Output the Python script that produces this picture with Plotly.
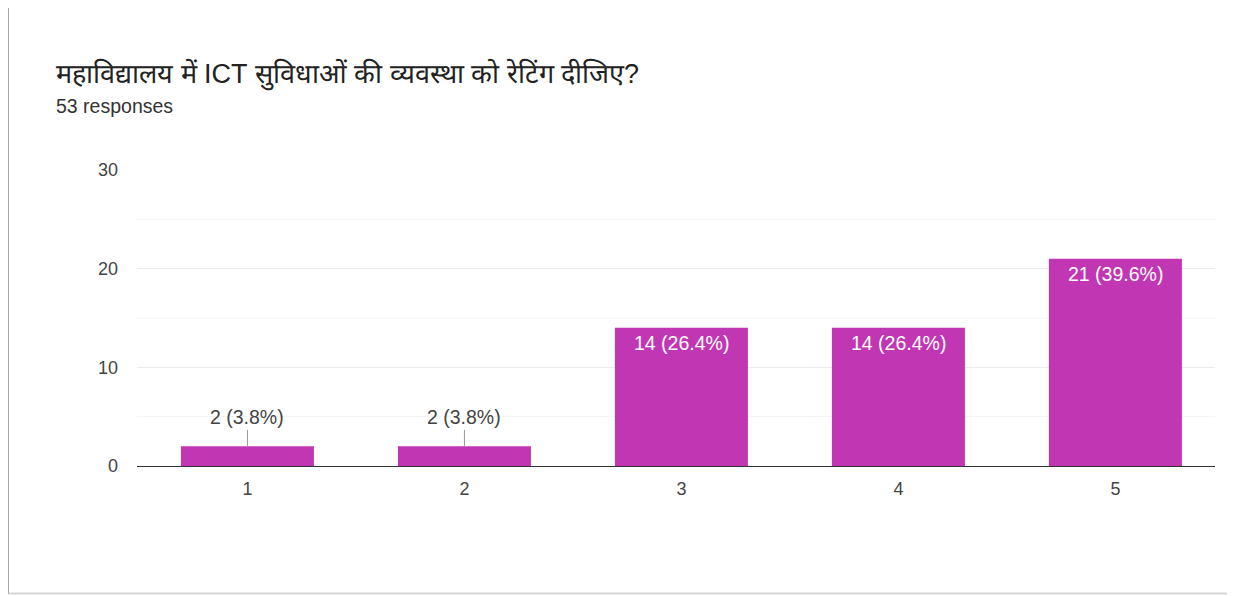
import plotly.graph_objects as go

categories = [1, 2, 3, 4, 5]
counts = [2, 2, 14, 14, 21]
percents = [3.8, 3.8, 26.4, 26.4, 39.6]
y_ticks = [0, 10, 20, 30]
title_text = "महाविद्यालय में ICT सुविधाओं की व्यवस्था को रेटिंग दीजिए?"
subtitle_text = "53 responses"

BAR_COLOR = "#c137b3"
TEXT_COLOR = "#444444"
FONT = "'Liberation Sans', Arial, sans-serif"

fig = go.Figure()
fig.add_trace(go.Bar(
    x=categories, y=counts, width=0.613,
    marker=dict(color=BAR_COLOR, line=dict(width=0)),
    hoverinfo="skip",
))

annotations = []
for c, v, p in zip(categories, counts, percents):
    label = f"{v} ({p}%)"
    if v < 5:
        annotations.append(dict(
            x=c, y=v, xref="x", yref="y", text=label, showarrow=True,
            ax=0, ay=-29, arrowhead=0, arrowwidth=1, arrowcolor="#999999",
            font=dict(size=19.5, color=TEXT_COLOR, family=FONT),
        ))
    else:
        annotations.append(dict(
            x=c, y=v, xref="x", yref="y", text=label, showarrow=False,
            yanchor="top", yshift=-2,
            font=dict(size=19.5, color="#ffffff", family=FONT),
        ))

# Title and subtitle
annotations.append(dict(
    x=-0.077, y=1.322, xref="paper", yref="paper", text=title_text,
    showarrow=False, xanchor="left", yanchor="middle",
    font=dict(size=27, color="#222222", family=FONT),
))
annotations.append(dict(
    x=-0.077, y=1.215, xref="paper", yref="paper", text=subtitle_text,
    showarrow=False, xanchor="left", yanchor="middle",
    font=dict(size=19.5, color="#333333", family=FONT),
))

shapes = [
    # card border
    dict(type="rect", xref="paper", yref="paper",
         x0=-0.1197, x1=1.0158, y0=-0.4305, y1=1.559,
         line=dict(color="#d6d6d6", width=2), layer="below"),
    dict(type="line", xref="paper", yref="paper",
         x0=-0.1197, x1=-0.1197, y0=-0.4305, y1=1.559,
         line=dict(color="#a8a8a8", width=2)),
    dict(type="line", xref="paper", yref="paper",
         x0=1.0158, x1=1.0158, y0=-0.4305, y1=1.559,
         line=dict(color="#b8b8b8", width=2)),
]
# minor gridlines
for yv in [5, 15, 25]:
    shapes.append(dict(type="line", xref="paper", yref="y", x0=0, x1=1,
                       y0=yv, y1=yv, line=dict(color="#f4f4f4", width=1),
                       layer="below"))

fig.update_layout(
    width=1227, height=588,
    margin=dict(l=129, r=20, t=162, b=130),
    paper_bgcolor="white", plot_bgcolor="white",
    showlegend=False,
    annotations=annotations,
    shapes=shapes,
    xaxis=dict(
        range=[0.491, 5.459], tickmode="array", tickvals=categories,
        ticktext=[str(c) for c in categories], showgrid=False,
        zeroline=False, showline=True, linecolor="#333333", linewidth=1,
        ticks="", tickfont=dict(size=18, color=TEXT_COLOR, family=FONT),
        fixedrange=True, ticklabelstandoff=6,
    ),
    yaxis=dict(
        range=[0, 30], tickmode="array", tickvals=y_ticks,
        showgrid=True, gridcolor="#ebebeb", gridwidth=1,
        zeroline=False, showline=False, ticks="",
        tickfont=dict(size=18, color=TEXT_COLOR, family=FONT),
        fixedrange=True, ticklabelstandoff=18,
    ),
)

fig.write_html("out.html")
